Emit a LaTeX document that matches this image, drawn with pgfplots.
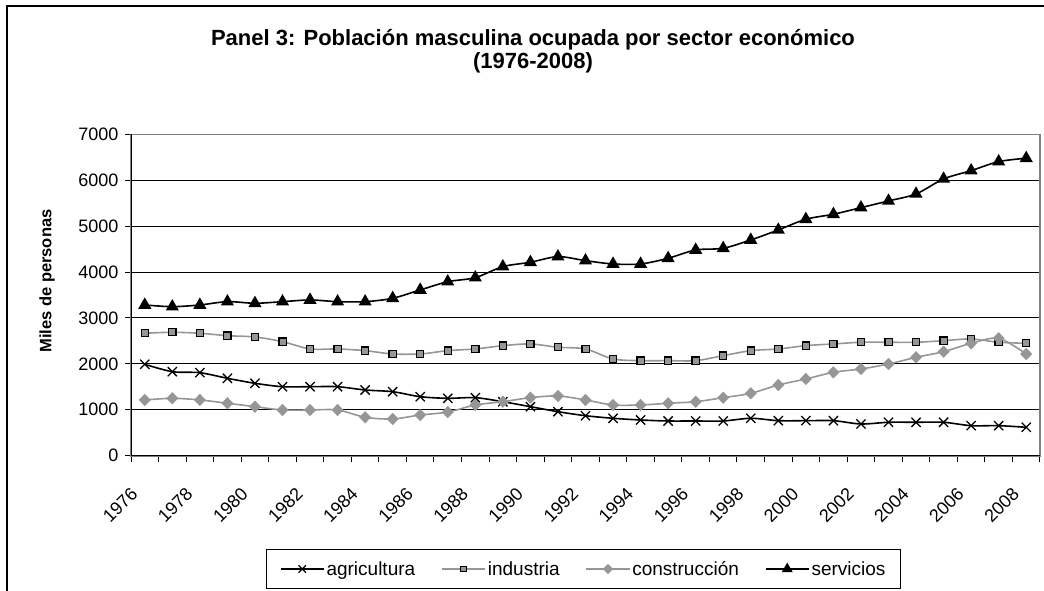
\documentclass[border=0pt]{standalone}
\usepackage{fontspec}
\setmainfont{Liberation Sans}
\usepackage{pgfplots}
\usepackage{pgfplotstable}
\pgfplotsset{compat=1.18}

\definecolor{serie}{RGB}{150,150,150}
\definecolor{marco}{RGB}{128,128,128}

\pgfplotstableread{
year agr ind con ser
1976 1991 2667 1214 3283
1977 1830 2688 1250 3246
1978 1808 2667 1214 3283
1979 1686 2614 1142 3355
1980 1577 2586 1068 3320
1981 1503 2484 996 3355
1982 1503 2325 996 3392
1983 1503 2325 996 3355
1984 1431 2288 837 3355
1985 1394 2216 800 3429
1986 1285 2216 887 3610
1987 1250 2288 950 3790
1988 1264 2325 1105 3878
1989 1176 2397 1176 4118
1990 1068 2434 1264 4213
1991 959 2362 1301 4336
1992 871 2325 1214 4248
1993 815 2107 1105 4176
1994 778 2070 1105 4176
1995 756 2070 1142 4300
1996 756 2070 1176 4481
1997 756 2179 1264 4518
1998 815 2288 1359 4699
1999 763 2325 1540 4917
2000 763 2397 1671 5150
2001 763 2434 1816 5259
2002 691 2471 1889 5403
2003 728 2471 1997 5549
2004 728 2471 2143 5701
2005 728 2505 2266 6028
2006 654 2543 2448 6209
2007 654 2471 2557 6405
2008 619 2449 2215 6479
}\datos

\begin{document}
\begin{tikzpicture}
\path[use as bounding box] (0pt,0pt) rectangle (1044pt,-591pt);
\draw[line width=2pt] (7pt,-591pt) -- (7pt,-6pt) -- (1044pt,-6pt);

\node[font=\bfseries\fontsize{22}{23}\selectfont, align=center] at (533pt,-51pt)
  {Panel 3: Población masculina ocupada por sector económico\\(1976-2008)};
\node[font=\bfseries\fontsize{16.5}{19}\selectfont, rotate=90] at (47pt,-281pt) {Miles de personas};

\begin{axis}[
  at={(131pt,-455.7pt)}, anchor=south west,
  scale only axis, width=909pt, height=321.4pt,
  xmin=1975.5, xmax=2008.5, ymin=0, ymax=7000,
  axis line style={draw=marco, line width=1.6pt},
  xtick={1976,1978,...,2008},
  xticklabels={1976,1978,1980,1982,1984,1986,1988,1990,1992,1994,1996,1998,2000,2002,2004,2006,2008},
  minor xtick={1975.5,1976.5,...,2008.5},
  ytick={0,1000,...,7000},
  minor ytick={0,1000,...,7000},
  xtick pos=bottom, ytick pos=left,
  tick align=outside, major tick length=0pt, minor tick length=6pt,
  tick style={black, line width=1pt},
  ymajorgrids, grid style={black, line width=1pt},
  /pgf/number format/1000 sep={},
  /pgf/number format/assume math mode=true,
  tick label style={font=\fontsize{18}{20}\selectfont},
  yticklabel style={xshift=-9pt},
  xticklabel style={xshift=-8pt, yshift=-33pt, rotate=45, anchor=east},
  legend style={at={(0.498,-0.3525)}, anchor=center, legend columns=4,
    draw=black, line width=1pt, font=\fontsize{19}{21}\selectfont,
    inner xsep=13pt, inner ysep=10pt,
    /tikz/every even column/.append style={column sep=24pt}},
  legend image code/.code={\draw[mark repeat=2, mark phase=2, #1, every mark/.append style={scale=0.8}]
    plot coordinates {(0pt,0pt) (21.5pt,0pt) (43pt,0pt)};},
]
\addplot[black, line width=1.6pt, smooth, tension=0.5, mark=x,
  mark options={mark size=6.5pt, line width=1.3pt, solid}] table[x=year, y=agr] {\datos};
\addlegendentry{agricultura}
\addplot[serie, line width=1.6pt, smooth, tension=0.5, mark=square*,
  mark options={mark size=3.6pt, fill=serie, draw=black, line width=1.2pt}] table[x=year, y=ind] {\datos};
\addlegendentry{industria}
\addplot[serie, line width=1.6pt, smooth, tension=0.5, mark=diamond*,
  mark options={mark size=5pt, fill=serie, draw=serie, xscale=1.3}] table[x=year, y=con] {\datos};
\addlegendentry{construcción}
\addplot[black, line width=1.6pt, smooth, tension=0.5, mark=triangle*,
  mark options={mark size=6pt, fill=black}] table[x=year, y=ser] {\datos};
\addlegendentry{servicios}
\draw[black, line width=1.6pt] (rel axis cs:0,1) -- (rel axis cs:0,0) -- (rel axis cs:1,0);
\end{axis}
\end{tikzpicture}
\end{document}
